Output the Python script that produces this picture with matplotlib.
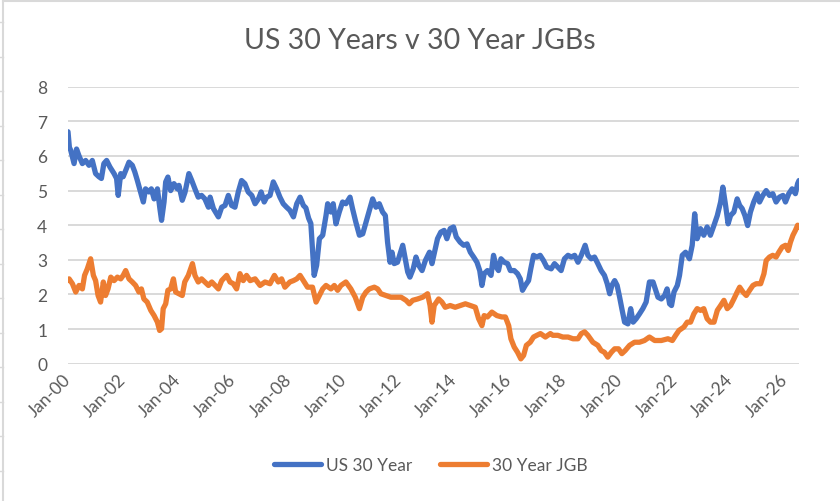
import numpy as np
import matplotlib.pyplot as plt
import matplotlib.transforms as mtransforms
from matplotlib.lines import Line2D

# decimal-year positions and yields (%)
us_t = [2000.00, 2000.05, 2000.10, 2000.22, 2000.31, 2000.40, 2000.52, 2000.64, 2000.76, 2000.88,
        2001.00, 2001.12, 2001.21, 2001.30, 2001.40, 2001.52, 2001.67, 2001.76, 2001.82, 2001.91,
        2002.00, 2002.09, 2002.21, 2002.33, 2002.42, 2002.51, 2002.63, 2002.73, 2002.81, 2002.93,
        2003.02, 2003.12, 2003.24, 2003.33, 2003.39, 2003.48, 2003.54, 2003.62, 2003.72, 2003.84,
        2003.96, 2004.02, 2004.14, 2004.24, 2004.38, 2004.48, 2004.60, 2004.72, 2004.84, 2004.96,
        2005.09, 2005.15, 2005.27, 2005.45, 2005.57, 2005.69, 2005.81, 2005.93, 2006.05, 2006.17,
        2006.29, 2006.41, 2006.53, 2006.66, 2006.78, 2006.90, 2007.00, 2007.11, 2007.20, 2007.32,
        2007.44, 2007.56, 2007.68, 2007.80, 2007.92, 2008.04, 2008.17, 2008.29, 2008.41, 2008.53,
        2008.62, 2008.72, 2008.80, 2008.86, 2008.92, 2009.01, 2009.11, 2009.23, 2009.35, 2009.41,
        2009.53, 2009.61, 2009.71, 2009.83, 2009.95, 2010.07, 2010.22, 2010.31, 2010.43, 2010.56,
        2010.68, 2010.80, 2010.92, 2011.04, 2011.16, 2011.28, 2011.40, 2011.50, 2011.58, 2011.67,
        2011.74, 2011.82, 2011.94, 2012.13, 2012.22, 2012.31, 2012.39, 2012.51, 2012.61, 2012.71,
        2012.83, 2012.95, 2013.10, 2013.19, 2013.27, 2013.39, 2013.51, 2013.63, 2013.73, 2013.85,
        2013.97, 2014.07, 2014.21, 2014.34, 2014.46, 2014.58, 2014.70, 2014.82, 2014.92, 2015.00,
        2015.08, 2015.20, 2015.33, 2015.42, 2015.52, 2015.60, 2015.69, 2015.81, 2015.93, 2016.03,
        2016.17, 2016.29, 2016.39, 2016.47, 2016.57, 2016.69, 2016.77, 2016.87, 2016.99, 2017.11,
        2017.23, 2017.35, 2017.51, 2017.63, 2017.75, 2017.87, 2017.99, 2018.12, 2018.24, 2018.36,
        2018.48, 2018.60, 2018.74, 2018.84, 2018.96, 2019.08, 2019.20, 2019.32, 2019.44, 2019.54,
        2019.63, 2019.71, 2019.81, 2019.90, 2019.99, 2020.07, 2020.17, 2020.29, 2020.39, 2020.48,
        2020.59, 2020.71, 2020.83, 2020.95, 2021.07, 2021.20, 2021.28, 2021.38, 2021.50, 2021.62,
        2021.71, 2021.80, 2021.87, 2021.96, 2022.08, 2022.16, 2022.26, 2022.38, 2022.52, 2022.62,
        2022.71, 2022.80, 2022.92, 2023.04, 2023.16, 2023.28, 2023.41, 2023.53, 2023.65, 2023.73,
        2023.83, 2023.92, 2024.01, 2024.13, 2024.25, 2024.34, 2024.43, 2024.53, 2024.63, 2024.73,
        2024.85, 2024.98, 2025.06, 2025.18, 2025.30, 2025.42, 2025.54, 2025.66, 2025.78, 2025.91,
        2026.00, 2026.12, 2026.24, 2026.36, 2026.44, 2026.49]
us_30y = [6.70, 6.25, 6.16, 5.78, 6.20, 6.00, 5.78, 5.87, 5.73, 5.87,
          5.49, 5.40, 5.35, 5.78, 5.87, 5.68, 5.49, 5.35, 4.86, 5.49,
          5.40, 5.58, 5.82, 5.73, 5.54, 5.30, 4.96, 4.67, 5.05, 4.96,
          5.05, 4.76, 5.05, 4.48, 4.14, 4.67, 5.25, 5.39, 5.00, 5.20,
          5.05, 5.15, 4.72, 4.95, 5.49, 5.30, 5.05, 4.81, 4.86, 4.76,
          4.52, 4.81, 4.48, 4.24, 4.52, 4.57, 4.86, 4.57, 4.52, 4.96,
          5.29, 5.20, 4.96, 4.86, 4.62, 4.76, 4.96, 4.67, 4.81, 4.86,
          5.25, 5.05, 4.81, 4.62, 4.52, 4.43, 4.24, 4.62, 4.81, 4.57,
          4.50, 4.20, 4.05, 3.30, 2.55, 2.84, 3.61, 3.71, 4.28, 4.62,
          4.38, 4.62, 4.04, 4.38, 4.67, 4.62, 4.81, 4.48, 4.09, 3.71,
          3.75, 4.09, 4.43, 4.76, 4.52, 4.62, 4.38, 4.28, 3.51, 2.93,
          3.22, 2.89, 2.93, 3.42, 3.03, 2.65, 2.50, 2.74, 3.08, 2.84,
          2.69, 2.98, 3.22, 2.89, 3.18, 3.61, 3.80, 3.85, 3.61, 3.90,
          3.95, 3.66, 3.51, 3.42, 3.46, 3.22, 3.08, 2.93, 2.69, 2.26,
          2.60, 2.69, 2.55, 3.13, 2.79, 2.69, 3.03, 2.93, 2.89, 2.69,
          2.69, 2.60, 2.45, 2.12, 2.26, 2.40, 2.74, 3.13, 3.08, 3.13,
          2.98, 2.79, 2.74, 2.89, 2.79, 2.69, 3.03, 3.13, 3.08, 3.13,
          2.93, 3.13, 3.42, 3.13, 3.03, 3.08, 2.89, 2.69, 2.55, 2.31,
          2.02, 2.26, 2.40, 2.26, 1.92, 1.59, 1.20, 1.15, 1.59, 1.20,
          1.30, 1.44, 1.59, 1.78, 2.36, 2.36, 2.16, 1.92, 1.87, 1.97,
          2.16, 1.73, 1.68, 2.07, 2.26, 2.55, 3.13, 3.22, 3.03, 3.42,
          4.33, 3.61, 3.90, 3.71, 3.95, 3.71, 4.00, 4.28, 4.67, 5.10,
          4.57, 4.04, 4.28, 4.38, 4.76, 4.57, 4.48, 4.28, 3.99, 4.38,
          4.67, 4.91, 4.67, 4.86, 5.00, 4.86, 4.91, 4.67, 4.81, 4.86,
          4.67, 4.91, 5.05, 4.91, 5.20, 5.29]

jgb_t = [2000.00, 2000.04, 2000.16, 2000.28, 2000.40, 2000.52, 2000.60, 2000.70, 2000.82, 2000.92,
         2001.00, 2001.09, 2001.18, 2001.28, 2001.36, 2001.45, 2001.55, 2001.67, 2001.79, 2001.91,
         2002.00, 2002.09, 2002.21, 2002.33, 2002.45, 2002.57, 2002.66, 2002.75, 2002.87, 2003.00,
         2003.12, 2003.24, 2003.32, 2003.39, 2003.45, 2003.54, 2003.62, 2003.72, 2003.82, 2003.90,
         2004.02, 2004.14, 2004.23, 2004.36, 2004.51, 2004.60, 2004.72, 2004.84, 2004.96, 2005.09,
         2005.21, 2005.33, 2005.45, 2005.57, 2005.75, 2005.87, 2005.99, 2006.11, 2006.23, 2006.35,
         2006.47, 2006.60, 2006.78, 2006.96, 2007.14, 2007.32, 2007.48, 2007.62, 2007.74, 2007.86,
         2008.04, 2008.17, 2008.29, 2008.41, 2008.53, 2008.68, 2008.86, 2008.99, 2009.11, 2009.23,
         2009.35, 2009.53, 2009.65, 2009.77, 2009.89, 2010.07, 2010.25, 2010.41, 2010.56, 2010.68,
         2010.80, 2010.92, 2011.10, 2011.22, 2011.34, 2011.52, 2011.70, 2011.88, 2012.07, 2012.25,
         2012.37, 2012.49, 2012.67, 2012.85, 2013.03, 2013.12, 2013.19, 2013.27, 2013.43, 2013.55,
         2013.67, 2013.85, 2014.03, 2014.21, 2014.40, 2014.58, 2014.76, 2014.88, 2015.00, 2015.08,
         2015.20, 2015.36, 2015.54, 2015.72, 2015.85, 2015.97, 2016.05, 2016.17, 2016.29, 2016.41,
         2016.51, 2016.61, 2016.75, 2016.87, 2016.99, 2017.12, 2017.30, 2017.48, 2017.57, 2017.75,
         2017.93, 2018.12, 2018.30, 2018.48, 2018.60, 2018.72, 2018.84, 2019.02, 2019.20, 2019.32,
         2019.44, 2019.56, 2019.69, 2019.81, 2019.95, 2020.07, 2020.19, 2020.35, 2020.53, 2020.71,
         2020.89, 2021.07, 2021.26, 2021.50, 2021.74, 2021.90, 2022.02, 2022.14, 2022.32, 2022.44,
         2022.56, 2022.68, 2022.80, 2022.92, 2023.04, 2023.16, 2023.28, 2023.41, 2023.53, 2023.65,
         2023.77, 2023.89, 2024.01, 2024.13, 2024.25, 2024.34, 2024.46, 2024.58, 2024.70, 2024.82,
         2024.94, 2025.10, 2025.22, 2025.30, 2025.42, 2025.54, 2025.66, 2025.76, 2025.88, 2026.00,
         2026.10, 2026.18, 2026.27, 2026.36, 2026.44, 2026.49]
jgb_30y = [2.40, 2.45, 2.31, 2.07, 2.26, 2.16, 2.55, 2.74, 3.03, 2.55,
           2.40, 1.97, 1.78, 2.36, 1.97, 2.16, 2.50, 2.40, 2.50, 2.45,
           2.55, 2.69, 2.45, 2.36, 2.26, 2.07, 2.16, 1.87, 1.78, 1.54,
           1.39, 1.20, 0.96, 1.01, 1.59, 1.73, 2.12, 2.16, 2.45, 2.07,
           2.02, 1.97, 2.36, 2.55, 2.89, 2.55, 2.36, 2.45, 2.36, 2.26,
           2.36, 2.26, 2.16, 2.40, 2.55, 2.36, 2.31, 2.16, 2.60, 2.40,
           2.55, 2.40, 2.45, 2.26, 2.36, 2.31, 2.55, 2.36, 2.45, 2.21,
           2.36, 2.40, 2.45, 2.55, 2.40, 2.21, 2.21, 1.78, 1.97, 2.16,
           2.26, 2.16, 2.26, 2.12, 2.26, 2.36, 2.16, 1.92, 1.59, 1.92,
           2.07, 2.16, 2.21, 2.16, 2.02, 1.97, 1.92, 1.92, 1.92, 1.83,
           1.73, 1.83, 1.87, 1.92, 2.02, 1.68, 1.20, 1.68, 1.87, 1.78,
           1.63, 1.68, 1.63, 1.68, 1.73, 1.68, 1.63, 1.30, 1.10, 1.39,
           1.35, 1.49, 1.39, 1.35, 1.35, 1.10, 0.72, 0.48, 0.33, 0.14,
           0.24, 0.53, 0.62, 0.77, 0.82, 0.87, 0.77, 0.87, 0.82, 0.82,
           0.77, 0.77, 0.72, 0.72, 0.87, 0.92, 0.82, 0.62, 0.53, 0.38,
           0.33, 0.19, 0.33, 0.43, 0.43, 0.29, 0.38, 0.53, 0.62, 0.62,
           0.67, 0.77, 0.67, 0.67, 0.72, 0.67, 0.82, 0.96, 1.06, 1.20,
           1.20, 1.44, 1.59, 1.54, 1.59, 1.30, 1.20, 1.20, 1.54, 1.68,
           1.83, 1.59, 1.68, 1.87, 2.07, 2.21, 2.07, 1.97, 2.12, 2.26,
           2.31, 2.31, 2.60, 2.98, 3.08, 3.13, 3.08, 3.22, 3.37, 3.42,
           3.27, 3.51, 3.71, 3.85, 4.00, 3.95]

tick_years = list(range(2000, 2027, 2))
tick_labels = [f"Jan-{y % 100:02d}" for y in tick_years]

BLUE = "#4472C4"
ORANGE = "#ED7D31"
GREY_TXT = "#595959"
GRID = "#D9D9D9"

plt.rcParams["font.family"] = ["Lato", "DejaVu Sans"]

W, H = 840, 502
fig = plt.figure(figsize=(W / 100, H / 100), dpi=100)
ax = fig.add_axes([68 / W, 1 - 364.7 / H, 731 / W, 277 / H])

ax.plot(us_t, us_30y, color=BLUE, lw=3.8, solid_joinstyle="round", solid_capstyle="round",
        label="US 30 Year", zorder=3)
ax.plot(jgb_t, jgb_30y, color=ORANGE, lw=3.8, solid_joinstyle="round", solid_capstyle="round",
        label="30 Year JGB", zorder=3)

ax.set_xlim(2000, 2026.49)
ax.set_ylim(0, 8)
ax.set_yticks(range(0, 9))
ax.set_xticks(tick_years)
ax.set_xticklabels(tick_labels, rotation=45, ha="right", va="center", rotation_mode="anchor")
# nudge the rotated date labels a little to the right, as Excel does
shift = mtransforms.ScaledTranslation(5 / 100, 0, fig.dpi_scale_trans)
for lab in ax.get_xticklabels():
    lab.set_transform(lab.get_transform() + shift)
ax.grid(axis="y", color=GRID, lw=1.4, zorder=0)
ax.grid(axis="x", visible=False)
for s in ax.spines.values():
    s.set_visible(False)
ax.tick_params(axis="both", length=0, labelsize=12.5, colors=GREY_TXT)
ax.tick_params(axis="y", pad=15)
ax.tick_params(axis="x", pad=9)
ax.set_axisbelow(True)

fig.text(0.5, 1 - 41 / H, "US 30 Years v 30 Year JGBs", ha="center", va="center",
         fontsize=20.5, color=GREY_TXT)

fig.legend(loc="center", bbox_to_anchor=(431 / W, 1 - 466 / H), ncol=2, frameon=False,
           fontsize=12.5, handlelength=2.7, handletextpad=0.3, columnspacing=1.6,
           labelcolor=GREY_TXT)

# faint chart-border and sheet row lines at the top/left edges
fig.add_artist(Line2D([3 / W, 1], [1 - 1.5 / H, 1 - 1.5 / H], color=GRID, lw=1.5))
fig.add_artist(Line2D([3 / W, 3 / W], [0, 1 - 1.5 / H], color=GRID, lw=1.5))
for yy in np.arange(23, H, 34.5):
    fig.add_artist(Line2D([0, 3 / W], [1 - yy / H, 1 - yy / H], color=GRID, lw=1))

fig.savefig("out.png", dpi=100, facecolor="white")
